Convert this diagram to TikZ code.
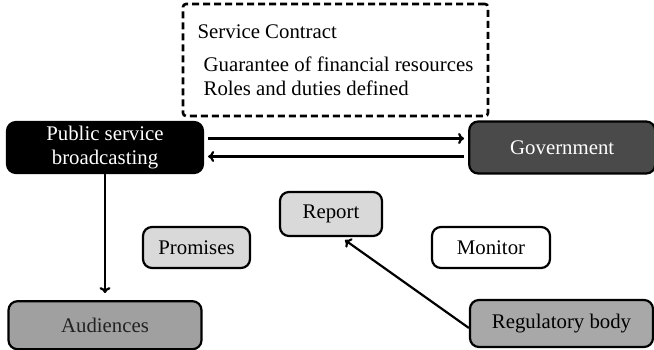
\documentclass[tikz,border=0pt]{standalone}
\usepackage{fontspec}
\setmainfont{Liberation Serif}
\usetikzlibrary{positioning, arrows.meta}

\definecolor{govgray}{HTML}{4A4A4A}
\definecolor{lightbox}{HTML}{D9D9D9}
\definecolor{midbox}{HTML}{A0A0A0}
\definecolor{regbox}{HTML}{A8A8A8}
\definecolor{audtext}{HTML}{222222}

\tikzset{
  box/.style = {draw, line width=2.2pt, rounded corners=9pt, inner sep=2pt,
                font=\fontsize{20.8}{24}\selectfont, align=center},
  link/.style = {line width=2.2pt, -{To[length=6pt,width=11pt]}},
}

\begin{document}
\begin{tikzpicture}[x=1pt, y=-1pt]
\useasboundingbox (0,0) rectangle (654,349);
% contract box
\node[draw, line width=2.6pt, dash pattern=on 7pt off 4pt, rounded corners=3pt,
      minimum width=305pt, minimum height=112pt,
      font=\fontsize{20.8}{24}\selectfont, align=left] (contract) at (335.5,60)
  {Service Contract\\[9pt]
   \hspace*{6pt}Guarantee of financial resources\\
   \hspace*{6pt}Roles and duties defined};
% main actors
\node[box, fill=black, text=white, minimum width=196pt, minimum height=51pt] (psb) at (105,147.5)
  {Public service\\broadcasting};
\node[box, fill=govgray, text=white, minimum width=186pt, minimum height=52pt] (gov) [right = 264pt of psb]
  {Government};
\node[box, fill=midbox, text=audtext, minimum width=193pt, minimum height=48pt] (aud) [below = 126pt of psb]
  {Audiences};
% middle row
\node[box, fill=lightbox, minimum width=102pt, minimum height=44pt] (report) at (331,214) {Report};
\node[box, fill=lightbox, minimum width=107pt, minimum height=41pt] (promises) at (196.5,247.5) {Promises};
\node[box, fill=white, minimum width=118pt, minimum height=41pt] (monitor) at (491,247.5) {Monitor};
\node[box, fill=regbox, minimum width=183pt, minimum height=47pt] (reg) at (561.5,323.5) {Regulatory body};
% connectors
\draw[link, shorten <=4pt, shorten >=4pt] ([yshift=9pt]psb.east) -- ([yshift=9pt]gov.west);
\draw[link, shorten <=4pt, shorten >=4pt] ([yshift=-9pt]gov.west) -- ([yshift=-9pt]psb.east);
\draw[link, shorten >=7pt] (psb.south) -- (aud.north);
\draw[link] ([yshift=-4.5pt]reg.west) -- ([xshift=14pt,yshift=-3pt]report.south);
\end{tikzpicture}
\end{document}
